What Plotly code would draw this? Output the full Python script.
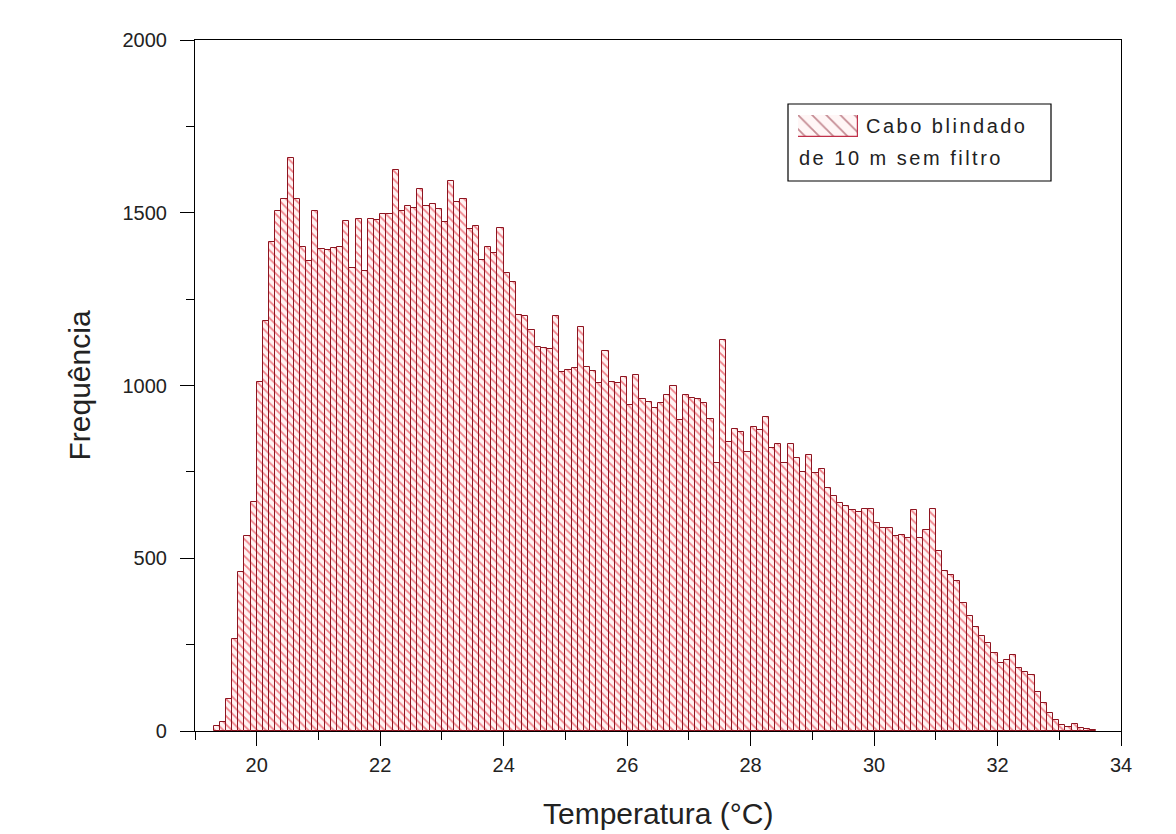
import plotly.graph_objects as go

# Histogram bin centres (°C), bin width 0.1 °C
temperature_bins = [
    19.35, 19.45, 19.55, 19.65, 19.75, 19.85, 19.95,
    20.05, 20.15, 20.25, 20.35, 20.45, 20.55, 20.65, 20.75, 20.85, 20.95,
    21.05, 21.15, 21.25, 21.35, 21.45, 21.55, 21.65, 21.75, 21.85, 21.95,
    22.05, 22.15, 22.25, 22.35, 22.45, 22.55, 22.65, 22.75, 22.85, 22.95,
    23.05, 23.15, 23.25, 23.35, 23.45, 23.55, 23.65, 23.75, 23.85, 23.95,
    24.05, 24.15, 24.25, 24.35, 24.45, 24.55, 24.65, 24.75, 24.85, 24.95,
    25.05, 25.15, 25.25, 25.35, 25.45, 25.55, 25.65, 25.75, 25.85, 25.95,
    26.05, 26.15, 26.25, 26.35, 26.45, 26.55, 26.65, 26.75, 26.85, 26.95,
    27.05, 27.15, 27.25, 27.35, 27.45, 27.55, 27.65, 27.75, 27.85, 27.95,
    28.05, 28.15, 28.25, 28.35, 28.45, 28.55, 28.65, 28.75, 28.85, 28.95,
    29.05, 29.15, 29.25, 29.35, 29.45, 29.55, 29.65, 29.75, 29.85, 29.95,
    30.05, 30.15, 30.25, 30.35, 30.45, 30.55, 30.65, 30.75, 30.85, 30.95,
    31.05, 31.15, 31.25, 31.35, 31.45, 31.55, 31.65, 31.75, 31.85, 31.95,
    32.05, 32.15, 32.25, 32.35, 32.45, 32.55, 32.65, 32.75, 32.85, 32.95,
    33.05, 33.15, 33.25, 33.35, 33.45, 33.55,
]

# Counts per bin ("Cabo blindado de 10 m sem filtro")
frequencies = [
    14, 25, 94, 266, 460, 565, 664,
    1011, 1188, 1414, 1506, 1539, 1659, 1539, 1400, 1361, 1506,
    1395, 1392, 1397, 1400, 1476, 1340, 1482, 1330, 1482, 1480,
    1497, 1495, 1624, 1505, 1519, 1515, 1568, 1520, 1525, 1510,
    1474, 1593, 1532, 1539, 1452, 1463, 1363, 1400, 1383, 1455,
    1325, 1300, 1205, 1200, 1160, 1112, 1110, 1107, 1200, 1040,
    1045, 1050, 1168, 1054, 1043, 1006, 1100, 1010, 1006, 1024,
    944, 1030, 960, 953, 936, 948, 972, 998, 900, 972,
    965, 960, 950, 902, 775, 1132, 837, 873, 866, 808,
    879, 871, 910, 818, 830, 775, 830, 790, 751, 799,
    748, 757, 703, 680, 659, 651, 640, 635, 644, 644,
    603, 589, 589, 563, 567, 560, 640, 558, 582, 644,
    522, 464, 452, 433, 371, 333, 300, 275, 256, 225,
    196, 205, 221, 181, 172, 162, 114, 82, 53, 32,
    17, 13, 20, 8, 6, 3,
]

bin_width = 0.1
x_ticks = [20, 22, 24, 26, 28, 30, 32, 34]
y_ticks = [0, 500, 1000, 1500, 2000]
series_name = "Cabo blindado"
series_name_line2 = "de 10 m sem filtro"
x_title = "Temperatura (°C)"
y_title = "Frequência"

FONT = "Liberation Sans, Arial, sans-serif"
TXT = "#222222"
HATCH = dict(shape="\\", fgcolor="#e01020", bgcolor="#fff3f3", size=6, solidity=0.3)

fig = go.Figure()

fig.add_trace(go.Bar(
    x=temperature_bins,
    y=frequencies,
    width=[bin_width] * len(temperature_bins),
    marker=dict(color="white", pattern=HATCH,
                line=dict(color="#8e1420", width=1)),
    name=series_name + " " + series_name_line2,
    showlegend=False,
    hoverinfo="x+y",
))

# legend key swatch drawn on an overlay axis placed where the legend is
fig.add_trace(go.Bar(
    x=[0], y=[1], width=[1],
    marker=dict(color="white", pattern=dict(shape="\\", fgcolor="#8a2030", bgcolor="#fff6f6",
                                            size=10, solidity=0.18),
                line=dict(color="#c0304a", width=1.2)),
    xaxis="x2", yaxis="y2", showlegend=False, hoverinfo="skip",
))

# page has an 8px body margin: figure is shrunk so that the plot area sits
# at page pixels x 195..1121, y 40..731
W, H = 1168, 826
L, R, T, B = 187, 55, 32, 103
pw, ph = W - L - R, H - T - B
PLOT_LEFT_PAGE, PLOT_BOTTOM_PAGE = 195, 731

def px_x(p):
    return (p - PLOT_LEFT_PAGE) / pw

def px_y(p):
    return (PLOT_BOTTOM_PAGE - p) / ph

axis_common = dict(
    showline=True, linecolor="black", linewidth=1.2, mirror=True,
    showgrid=False, zeroline=False,
    ticks="outside", tickcolor="black", tickwidth=1.2, ticklen=14,
    tickfont=dict(family=FONT, size=20, color=TXT),
)

fig.update_layout(
    width=W, height=H,
    margin=dict(l=L, r=R, t=T, b=B),
    paper_bgcolor="white", plot_bgcolor="white",
    bargap=0,
    showlegend=False,
    xaxis=dict(range=[19, 34], tickvals=x_ticks, ticktext=[str(v) for v in x_ticks],
               minor=dict(dtick=1, tick0=19, ticks="outside", ticklen=8,
                          tickcolor="black", tickwidth=1.2),
               ticklabelstandoff=2, **axis_common),
    yaxis=dict(range=[0, 2000], tickvals=y_ticks, ticktext=[str(v) for v in y_ticks],
               minor=dict(dtick=250, tick0=0, ticks="outside", ticklen=8,
                          tickcolor="black", tickwidth=1.2),
               ticklabelstandoff=9, **axis_common),
    xaxis2=dict(domain=[px_x(798), px_x(858)], anchor="y2", range=[-0.5, 0.5],
                visible=False, fixedrange=True),
    yaxis2=dict(domain=[px_y(137), px_y(115)], anchor="x2", range=[0, 1],
                visible=False, fixedrange=True),
    shapes=[dict(type="rect", xref="paper", yref="paper",
                 x0=px_x(788), x1=px_x(1051), y0=px_y(181), y1=px_y(104),
                 line=dict(color="black", width=1.2), fillcolor="rgba(0,0,0,0)")],
    annotations=[
        dict(text='<span style="letter-spacing:2.5px">' + series_name + '</span>',
             xref="paper", yref="paper", x=px_x(864), y=px_y(126),
             xanchor="left", yanchor="middle", showarrow=False,
             font=dict(family=FONT, size=20, color=TXT)),
        dict(text='<span style="letter-spacing:2.5px">' + series_name_line2 + '</span>',
             xref="paper", yref="paper", x=px_x(797), y=px_y(158),
             xanchor="left", yanchor="middle", showarrow=False,
             font=dict(family=FONT, size=20, color=TXT)),
        dict(text=x_title, xref="paper", yref="paper", x=0.5, y=px_y(813),
             xanchor="center", yanchor="middle", showarrow=False,
             font=dict(family=FONT, size=30, color=TXT)),
        dict(text=y_title, xref="paper", yref="paper", x=px_x(79), y=0.5,
             xanchor="center", yanchor="middle", textangle=-90, showarrow=False,
             font=dict(family=FONT, size=30, color=TXT)),
    ],
)

fig.write_html("out.html")
